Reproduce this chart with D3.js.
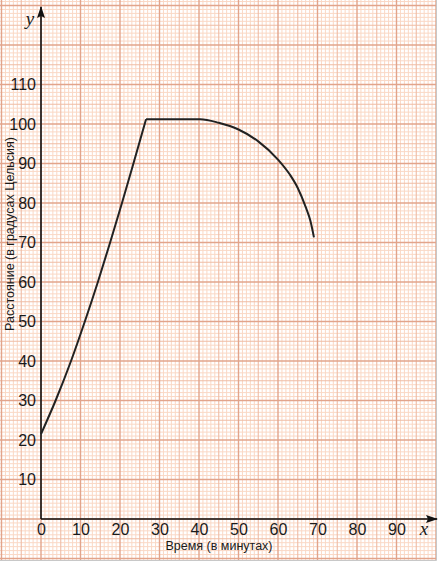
<!DOCTYPE html>
<html>
<head>
<meta charset="utf-8">
<script src="https://cdn.jsdelivr.net/npm/d3@7"></script>
<style>
  body { margin: 0; background: #fff; }
  svg { display: block; }
</style>
</head>
<body>
<script>
// curve readings (time in minutes, value)
const riseX = [0, 3.7, 7.6, 11.1, 14.4, 17.5, 20.5, 23.4, 26.6];
const riseY = [21.5, 30, 40, 50, 60, 70, 80, 90, 101.2];
const fallX = [26.6, 40.3, 45, 50, 55, 60, 63, 65, 67, 68.2, 69.1];
const fallY = [101.2, 101.2, 100.3, 98.6, 95.6, 91, 87.2, 83.8, 79, 75.5, 71.3];

const xTicks = [0, 10, 20, 30, 40, 50, 60, 70, 80, 90];
const yTicks = [10, 20, 30, 40, 50, 60, 70, 80, 90, 100, 110];

const xTitle = "Время (в минутах)";
const yTitle = "Расстояние (в градусах Цельсия)";

const width = 440, height = 566;
const unit = 3.95;
const ox = 41, oy = 519;

const svg = d3.select("body").append("svg")
  .attr("width", width)
  .attr("height", height);

const x = d3.scaleLinear().domain([0, 100]).range([ox, ox + 100 * unit]);
const y = d3.scaleLinear().domain([0, 130]).range([oy, oy - 130 * unit]);

// graph paper
const gridW = x(100), gridH = 560;
svg.append("clipPath").attr("id", "paper")
  .append("rect").attr("x", 0).attr("y", 0).attr("width", gridW).attr("height", gridH);

const grid = svg.append("g").attr("clip-path", "url(#paper)");
const lineStyle = v => v % 10 === 0 ? ["#e2a48b", 1.4] : v % 5 === 0 ? ["#efbca5", 1.1] : ["#fad8c5", 1];

const vx = d3.range(-10, 101);
const vy = d3.range(-11, 132);
// fine first, majors on top
[1, 5, 10].forEach(level => {
  const pick = v => level === 1 ? v % 5 !== 0 : level === 5 ? v % 5 === 0 && v % 10 !== 0 : v % 10 === 0;
  vx.filter(pick).forEach(v => {
    const [c, w] = lineStyle(v);
    grid.append("line")
      .attr("x1", x(v)).attr("x2", x(v)).attr("y1", 0).attr("y2", gridH)
      .attr("stroke", c).attr("stroke-width", w);
  });
  vy.filter(pick).forEach(v => {
    const [c, w] = lineStyle(v);
    grid.append("line")
      .attr("y1", y(v)).attr("y2", y(v)).attr("x1", 0).attr("x2", gridW)
      .attr("stroke", c).attr("stroke-width", w);
  });
});

// frame on right and bottom
svg.append("path")
  .attr("d", `M${gridW + 0.5},0V${gridH + 0.5}H0`)
  .attr("fill", "none")
  .attr("stroke", "#c8c8c8")
  .attr("stroke-width", 1);

// axes lines with arrows
svg.append("defs").append("marker")
  .attr("id", "arrow")
  .attr("viewBox", "0 0 12 8")
  .attr("refX", 11).attr("refY", 4)
  .attr("markerWidth", 12).attr("markerHeight", 8)
  .attr("markerUnits", "userSpaceOnUse")
  .attr("orient", "auto")
  .append("path").attr("d", "M0,0L12,4L0,8L2,4Z").attr("fill", "#111");

svg.append("line")
  .attr("x1", x(0)).attr("y1", y(0)).attr("x2", x(0)).attr("y2", 7)
  .attr("stroke", "#111").attr("stroke-width", 1.6)
  .attr("marker-end", "url(#arrow)");
svg.append("line")
  .attr("x1", x(0)).attr("y1", y(0)).attr("x2", 437).attr("y2", y(0))
  .attr("stroke", "#111").attr("stroke-width", 1.6)
  .attr("marker-end", "url(#arrow)");

// tick labels
const font = "'Liberation Sans', Arial, sans-serif";
const yAxis = svg.append("g")
  .attr("transform", `translate(${x(0)},0)`)
  .call(d3.axisLeft(y).tickValues(yTicks).tickSize(0).tickPadding(5));
const xAxis = svg.append("g")
  .attr("transform", `translate(0,${y(0)})`)
  .call(d3.axisBottom(x).tickValues(xTicks).tickSize(0).tickPadding(5));
[xAxis, yAxis].forEach(g => {
  g.select(".domain").remove();
  g.selectAll("text")
    .attr("font-family", font)
    .attr("font-size", 16)
    .attr("fill", "#1a1a1a");
});

// axis letters
const serif = "'Liberation Serif', 'Times New Roman', serif";
svg.append("text").attr("x", 30).attr("y", 25)
  .attr("text-anchor", "middle")
  .attr("font-family", serif)
  .attr("font-style", "italic").attr("font-size", 19).attr("fill", "#1a1a1a")
  .text("y");
svg.append("text").attr("x", 424).attr("y", 535)
  .attr("text-anchor", "middle")
  .attr("font-family", serif)
  .attr("font-style", "italic").attr("font-size", 19).attr("fill", "#1a1a1a")
  .text("x");

// titles
svg.append("text")
  .attr("x", 219).attr("y", 550)
  .attr("text-anchor", "middle")
  .attr("font-family", font).attr("font-size", 12.5).attr("fill", "#1a1a1a")
  .text(xTitle);
svg.append("text")
  .attr("transform", "translate(14,234) rotate(-90)")
  .attr("text-anchor", "middle")
  .attr("font-family", font).attr("font-size", 12.5).attr("fill", "#1a1a1a")
  .text(yTitle);

// curve: rising part, then plateau bending into the fall
const line = d3.line()
  .x(d => x(d[0]))
  .y(d => y(d[1]))
  .curve(d3.curveMonotoneX);

const rise = riseX.map((v, i) => [v, riseY[i]]);
const fall = fallX.map((v, i) => [v, fallY[i]]);

svg.append("path")
  .attr("d", line(rise) + line(fall))
  .attr("fill", "none")
  .attr("stroke", "#222")
  .attr("stroke-width", 2)
  .attr("stroke-linejoin", "round");
</script>
</body>
</html>
